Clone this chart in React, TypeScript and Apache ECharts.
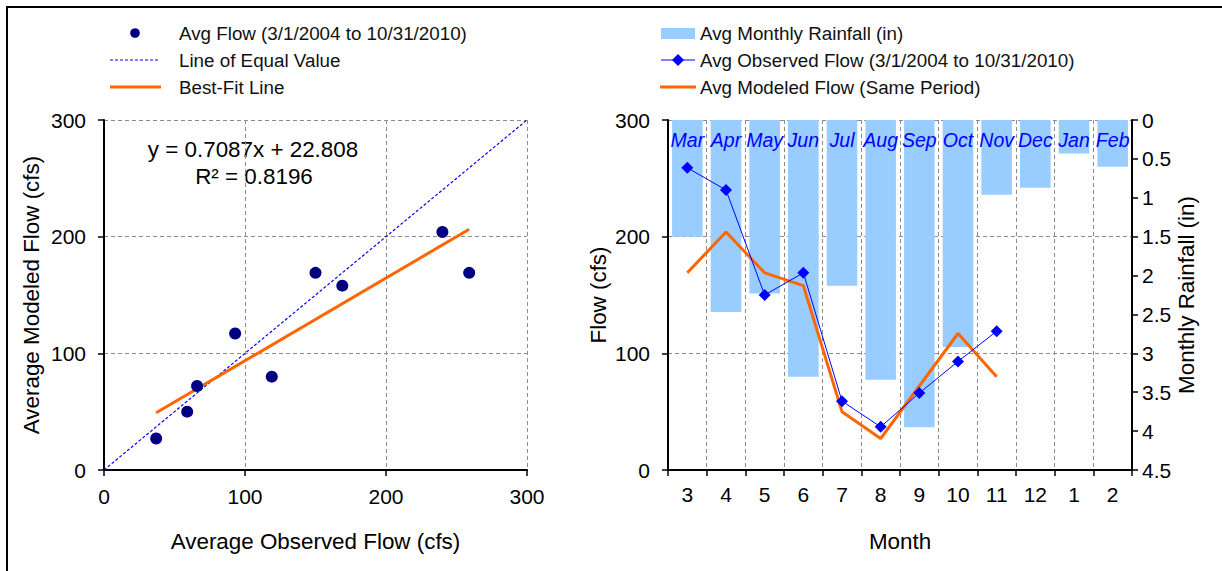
import React, { useEffect, useRef } from "react";
import * as echarts from "echarts";

// ---- data ----
const monthNums = ["3", "4", "5", "6", "7", "8", "9", "10", "11", "12", "1", "2"];
const monthNames = ["Mar", "Apr", "May", "Jun", "Jul", "Aug", "Sep", "Oct", "Nov", "Dec", "Jan", "Feb"];
const rainfall = [1.5, 2.47, 2.23, 3.3, 2.13, 3.34, 3.95, 2.92, 0.96, 0.87, 0.43, 0.6];
const observedFlow = [259, 240, 150, 169, 59, 37, 66, 93, 119, null, null, null];
const modeledFlow = [169, 204, 169, 158, 50, 27, 72, 117, 80, null, null, null];
const fitSlope = 0.7087;
const fitIntercept = 22.808;
const flowTicks = [0, 300, 100];
const rainTicks = [0, 4.5, 0.5];

const FONT = "'Liberation Sans', Arial, sans-serif";
const BLACK = "#000";
const GRID_LINE = { show: true, lineStyle: { color: "#8c8c8c", type: [4, 3], width: 1 } };

export default function App() {
  const ref = useRef<HTMLDivElement>(null);

  useEffect(() => {
    if (!ref.current) return;
    const chart = echarts.init(ref.current, null, { renderer: "svg" });

    const pairs: number[][] = [];
    for (let i = 0; i < observedFlow.length; i++) {
      if (observedFlow[i] != null && modeledFlow[i] != null) pairs.push([observedFlow[i] as number, modeledFlow[i] as number]);
    }
    const xs = pairs.map((p) => p[0]);
    const xMin = Math.min(...xs);
    const xMax = Math.max(...xs);
    const fitLine = [
      [xMin, fitSlope * xMin + fitIntercept],
      [xMax, fitSlope * xMax + fitIntercept],
    ];

    const axisLine = { show: true, onZero: false, lineStyle: { color: BLACK, width: 2 } };
    const axisTick = { show: true, inside: false, length: 6, lineStyle: { color: BLACK, width: 1.5 } };
    const lbl = (margin: number) => ({ color: BLACK, fontSize: 21, fontFamily: FONT, margin });
    const nameStyle = { color: BLACK, fontSize: 22.4, fontFamily: FONT };

    const legendText = (x: number, y: number, t: string) => ({
      type: "text",
      x,
      y,
      style: { text: t, fill: "#111", font: `18.8px ${FONT}`, textVerticalAlign: "middle", textAlign: "left" },
    });

    const option: any = {
      animation: false,
      backgroundColor: "#fff",
      textStyle: { fontFamily: FONT },
      grid: [
        { left: 104, right: 695, top: 120, bottom: 101 },
        { left: 668, right: 90, top: 120, bottom: 101 },
      ],
      xAxis: [
        {
          type: "value",
          gridIndex: 0,
          min: flowTicks[0],
          max: flowTicks[1],
          interval: flowTicks[2],
          axisLine,
          axisTick,
          splitLine: GRID_LINE,
          axisLabel: lbl(16),
          name: "Average Observed Flow (cfs)",
          nameLocation: "middle",
          nameGap: 60,
          nameTextStyle: nameStyle,
        },
        {
          type: "category",
          gridIndex: 1,
          data: monthNums,
          boundaryGap: true,
          axisLine,
          axisTick: { ...axisTick, alignWithLabel: false, interval: 0 },
          splitLine: { ...GRID_LINE, interval: 0 },
          axisLabel: { ...lbl(14), interval: 0 },
          name: "Month",
          nameLocation: "middle",
          nameGap: 60,
          nameTextStyle: nameStyle,
        },
        {
          type: "category",
          gridIndex: 1,
          position: "top",
          data: monthNames,
          boundaryGap: true,
          axisLine: { show: false },
          axisTick: { show: false },
          splitLine: { show: false },
          axisLabel: {
            inside: true,
            interval: 0,
            hideOverlap: false,
            margin: 10,
            color: "#0000FF",
            fontStyle: "italic",
            fontSize: 19.5,
            fontFamily: FONT,
          },
          z: 10,
        },
      ],
      yAxis: [
        {
          type: "value",
          gridIndex: 0,
          min: flowTicks[0],
          max: flowTicks[1],
          interval: flowTicks[2],
          axisLine,
          axisTick,
          splitLine: GRID_LINE,
          axisLabel: lbl(18),
          name: "Average Modeled Flow (cfs)",
          nameLocation: "middle",
          nameRotate: 90,
          nameGap: 62,
          nameTextStyle: nameStyle,
        },
        {
          type: "value",
          gridIndex: 1,
          position: "left",
          min: flowTicks[0],
          max: flowTicks[1],
          interval: flowTicks[2],
          axisLine,
          axisTick,
          splitLine: GRID_LINE,
          axisLabel: lbl(18),
          name: "Flow (cfs)",
          nameLocation: "middle",
          nameRotate: 90,
          nameGap: 59,
          nameTextStyle: nameStyle,
        },
        {
          type: "value",
          gridIndex: 1,
          position: "right",
          inverse: true,
          min: rainTicks[0],
          max: rainTicks[1],
          interval: rainTicks[2],
          axisLine,
          axisTick,
          splitLine: { show: false },
          axisLabel: lbl(10),
          name: "Monthly Rainfall (in)",
          nameLocation: "middle",
          nameRotate: 90,
          nameGap: 36,
          nameTextStyle: nameStyle,
        },
      ],
      series: [
        {
          name: "Line of Equal Value",
          type: "line",
          xAxisIndex: 0,
          yAxisIndex: 0,
          data: [
            [flowTicks[0], flowTicks[0]],
            [flowTicks[1], flowTicks[1]],
          ],
          symbol: "none",
          lineStyle: { color: "#0000FF", width: 1.2, type: [3, 2] },
        },
        {
          name: "Best-Fit Line",
          type: "line",
          xAxisIndex: 0,
          yAxisIndex: 0,
          data: fitLine,
          symbol: "none",
          lineStyle: { color: "#FF6600", width: 3 },
        },
        {
          name: "Avg Flow (3/1/2004 to 10/31/2010)",
          type: "scatter",
          xAxisIndex: 0,
          yAxisIndex: 0,
          data: pairs,
          symbol: "circle",
          symbolSize: 12,
          itemStyle: { color: "#000080", opacity: 1 },
          z: 5,
        },
        {
          name: "Avg Monthly Rainfall (in)",
          type: "bar",
          xAxisIndex: 1,
          yAxisIndex: 2,
          data: rainfall,
          barCategoryGap: "21%",
          itemStyle: { color: "#99CCFF" },
        },
        {
          name: "Avg Modeled Flow (Same Period)",
          type: "line",
          xAxisIndex: 1,
          yAxisIndex: 1,
          data: modeledFlow,
          symbol: "none",
          lineStyle: { color: "#FF6600", width: 3 },
          z: 4,
        },
        {
          name: "Avg Observed Flow (3/1/2004 to 10/31/2010)",
          type: "line",
          xAxisIndex: 1,
          yAxisIndex: 1,
          data: observedFlow,
          symbol: "diamond",
          symbolSize: 12,
          itemStyle: { color: "#0000FF", opacity: 1 },
          lineStyle: { color: "#0000FF", width: 1 },
          z: 5,
        },
      ],
      graphic: [
        {
          type: "rect",
          shape: { x: 7, y: 7, width: 1240, height: 600 },
          style: { fill: "none", stroke: BLACK, lineWidth: 2 },
          silent: true,
        },
        // left legend
        { type: "circle", shape: { cx: 135, cy: 33, r: 4.8 }, style: { fill: "#000080" } },
        legendText(179, 33, "Avg Flow (3/1/2004 to 10/31/2010)"),
        {
          type: "line",
          shape: { x1: 110, y1: 60, x2: 160, y2: 60 },
          style: { stroke: "#0000FF", lineWidth: 1.2, lineDash: [3, 2] },
        },
        legendText(179, 60, "Line of Equal Value"),
        { type: "line", shape: { x1: 110, y1: 87, x2: 161, y2: 87 }, style: { stroke: "#FF6600", lineWidth: 3 } },
        legendText(179, 87, "Best-Fit Line"),
        // right legend
        { type: "rect", shape: { x: 661, y: 28, width: 34, height: 11 }, style: { fill: "#99CCFF" } },
        legendText(700, 33, "Avg Monthly Rainfall (in)"),
        { type: "line", shape: { x1: 661, y1: 60, x2: 695, y2: 60 }, style: { stroke: "#0000FF", lineWidth: 1 } },
        {
          type: "polygon",
          shape: { points: [[678, 54], [684, 60], [678, 66], [672, 60]] },
          style: { fill: "#0000FF" },
        },
        legendText(700, 60, "Avg Observed Flow (3/1/2004 to 10/31/2010)"),
        { type: "line", shape: { x1: 660, y1: 87, x2: 696, y2: 87 }, style: { stroke: "#FF6600", lineWidth: 3 } },
        legendText(700, 87, "Avg Modeled Flow (Same Period)"),
        // regression equation
        {
          type: "text",
          x: 253,
          y: 149,
          style: { text: "y = 0.7087x + 22.808", fill: BLACK, font: `22.4px ${FONT}`, textAlign: "center", textVerticalAlign: "middle" },
        },
        {
          type: "text",
          x: 254,
          y: 176,
          style: { text: "R² = 0.8196", fill: BLACK, font: `22.4px ${FONT}`, textAlign: "center", textVerticalAlign: "middle" },
        },
      ],
    };

    chart.setOption(option);
    return () => chart.dispose();
  }, []);

  return (
    <div
      ref={ref}
      style={{ position: "absolute", left: 0, top: 0, width: 1222, height: 571, background: "#fff" }}
    />
  );
}
